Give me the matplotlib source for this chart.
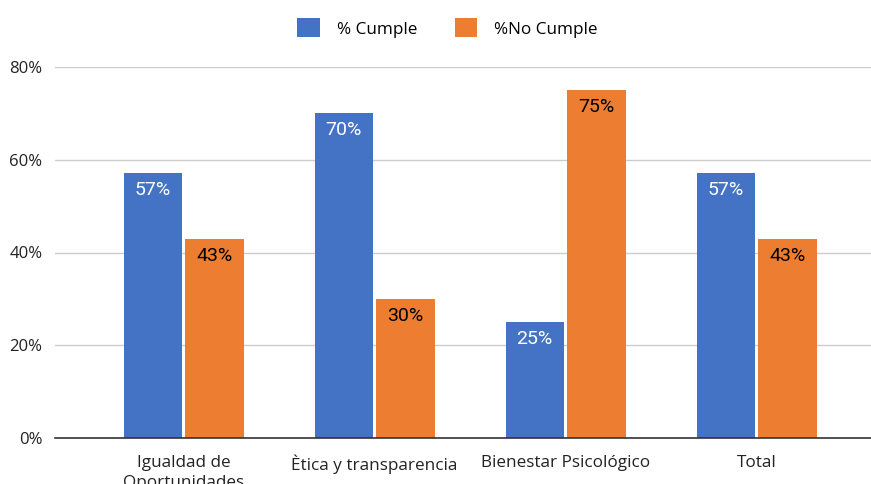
import matplotlib.pyplot as plt
import numpy as np

categories = ["Igualdad de\nOportunidades", "Ètica y transparencia", "Bienestar Psicológico", "Total"]
cumple = [57.1, 70, 25, 57.1]
no_cumple = [42.9, 30, 75, 42.9]
cumple_lbl = ["57%", "70%", "25%", "57%"]
no_cumple_lbl = ["43%", "30%", "75%", "43%"]
yticks = [0, 20, 40, 60, 80]

blue = "#4472C4"
orange = "#ED7D31"

fig = plt.figure(figsize=(8.71, 4.84), dpi=100)
ax = fig.add_axes([55/871, 46/484, 816/871, 371/484])

x = np.arange(len(categories))
w = 0.304
off = 0.162
b1 = ax.bar(x - off, cumple, w, color=blue, label="% Cumple", zorder=3)
b2 = ax.bar(x + off, no_cumple, w, color=orange, label="%No Cumple", zorder=3)

for xi, v, t in zip(x, cumple, cumple_lbl):
    ax.annotate(t, (xi - off, v), xytext=(0, -12), textcoords="offset points",
                ha="center", va="center", color="white", fontsize=14, family="Roboto", zorder=4)
for xi, v, t in zip(x, no_cumple, no_cumple_lbl):
    ax.annotate(t, (xi + off, v), xytext=(0, -12), textcoords="offset points",
                ha="center", va="center", color="black", fontsize=14, family="Roboto", zorder=4)

ax.set_xlim(-0.673, 3.599)
ax.set_ylim(0, 80)
ax.set_yticks(yticks)
ax.set_yticklabels([f"{t}%" for t in yticks], family="Open Sans", fontsize=12, color="#222222")
ax.set_xticks(x)
ax.set_xticklabels(categories, family="Open Sans", fontsize=12.3, color="#222222", linespacing=1.35)
ax.tick_params(length=0, axis="y", pad=9)
ax.tick_params(length=0, axis="x", pad=12)
ax.grid(axis="y", color="#cccccc", linewidth=1, zorder=0)
for s in ["top", "right", "left"]:
    ax.spines[s].set_visible(False)
ax.spines["bottom"].set_color("#333333")
ax.spines["bottom"].set_linewidth(1.2)
ax.spines["bottom"].set_zorder(5)

fig.legend(handles=[b1, b2], loc="center", bbox_to_anchor=(447.5/871, 1 - 28/484), ncol=2,
           frameon=False, handlelength=1.3, handleheight=1.3, handletextpad=1.0,
           columnspacing=2.2, prop={"family": "Open Sans", "size": 12.3})

fig.savefig("out.png", dpi=100)
